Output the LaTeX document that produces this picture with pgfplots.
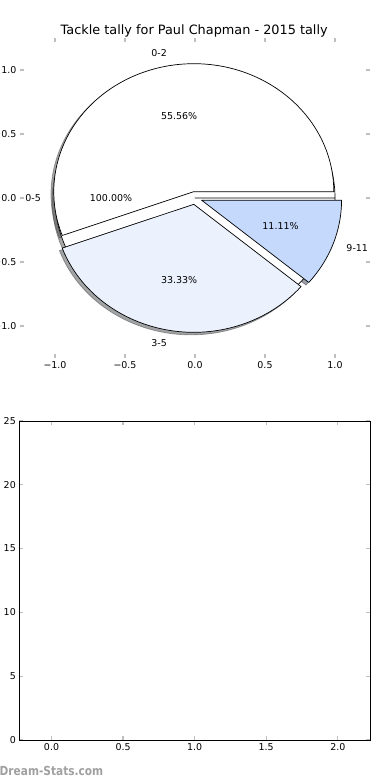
\documentclass[border=0pt]{standalone}
\usepackage{pgfplots}
\pgfplotsset{compat=1.18}
\usepackage{pgfplotstable}
\usepackage{fontspec}
\setmainfont{DejaVu Sans}
\definecolor{tickgray}{RGB}{191,191,191}
\definecolor{sliceA}{RGB}{255,255,255}
\definecolor{sliceB}{RGB}{235,241,253}
\definecolor{sliceC}{RGB}{197,217,253}
\definecolor{shadA}{RGB}{77,77,77}
\definecolor{shadB}{RGB}{70,72,76}
\definecolor{shadC}{RGB}{59,65,76}
\definecolor{wmgray}{RGB}{160,160,160}
\pgfkeys{/pgf/number format/assume math mode=true}
\newcommand{\lblfont}{\fontsize{9.5}{11.4}\selectfont}

% tallies of the inner pie and of the single outer category
\pgfplotstableread{
label value
0-2 5
3-5 3
9-11 1
}\tallies
\pgfplotstableread{
label value
0-5 1
}\alltally

\newcommand{\savew}[3]{\expandafter\xdef\csname w#1#2\endcsname{#3}}
\newcommand{\getw}[2]{\csname w#1#2\endcsname}
% name, start angle, end angle, explode
\newcommand{\prepwedge}[4]{%
  \pgfmathsetmacro{\tmid}{(#2+#3)/2}%
  \pgfmathsetmacro{\tcx}{#4*cos(\tmid)}%
  \pgfmathsetmacro{\tcy}{#4*sin(\tmid)}%
  \pgfmathsetmacro{\tsx}{\tcx+cos(#2)}%
  \pgfmathsetmacro{\tsy}{\tcy+sin(#2)}%
  \pgfmathsetmacro{\tscx}{\tcx-0.02}%
  \pgfmathsetmacro{\tscy}{\tcy-0.02}%
  \pgfmathsetmacro{\tssx}{\tsx-0.02}%
  \pgfmathsetmacro{\tssy}{\tsy-0.02}%
  \pgfmathsetmacro{\tlx}{\tcx+1.1*cos(\tmid)}%
  \pgfmathsetmacro{\tly}{\tcy+1.1*sin(\tmid)}%
  \pgfmathsetmacro{\tpx}{\tcx+0.6*cos(\tmid)}%
  \pgfmathsetmacro{\tpy}{\tcy+0.6*sin(\tmid)}%
  \pgfmathsetmacro{\tpct}{(#3-#2)/3.6}%
  \savew{#1}{start}{#2}\savew{#1}{end}{#3}%
  \savew{#1}{cx}{\tcx}\savew{#1}{cy}{\tcy}%
  \savew{#1}{sx}{\tsx}\savew{#1}{sy}{\tsy}%
  \savew{#1}{scx}{\tscx}\savew{#1}{scy}{\tscy}%
  \savew{#1}{ssx}{\tssx}\savew{#1}{ssy}{\tssy}%
  \savew{#1}{lx}{\tlx}\savew{#1}{ly}{\tly}%
  \savew{#1}{px}{\tpx}\savew{#1}{py}{\tpy}%
  \savew{#1}{pct}{\tpct}%
}
% name, prefix (s = shadow)
\newcommand{\wedgeshape}[2]{%
  \pgfpathmoveto{\pgfplotspointaxisxy{\getw{#1}{#2cx}}{\getw{#1}{#2cy}}}%
  \pgfpathlineto{\pgfplotspointaxisxy{\getw{#1}{#2sx}}{\getw{#1}{#2sy}}}%
  \pgfpatharc{\getw{#1}{start}}{\getw{#1}{end}}{140bp and 128bp}%
  \pgfpathclose
}
\newcommand{\wedgeshadow}[2]{%
  \begin{pgfscope}
  \pgfsetfillcolor{#2}\pgfsetstrokecolor{#2}%
  \pgfsetfillopacity{0.5}\pgfsetstrokeopacity{0.5}%
  \pgfsetlinewidth{0.7bp}%
  \wedgeshape{#1}{s}%
  \pgfusepath{fill,stroke}%
  \end{pgfscope}
}
\newcommand{\wedgefill}[2]{%
  \begin{pgfscope}
  \pgfsetfillcolor{#2}\pgfsetstrokecolor{black}%
  \pgfsetlinewidth{0.7bp}\pgfsetroundjoin
  \wedgeshape{#1}{}%
  \pgfusepath{fill,stroke}%
  \end{pgfscope}
}

\pgfplotstablegetelem{0}{value}\of\tallies \edef\vA{\pgfplotsretval}
\pgfplotstablegetelem{1}{value}\of\tallies \edef\vB{\pgfplotsretval}
\pgfplotstablegetelem{2}{value}\of\tallies \edef\vC{\pgfplotsretval}
\pgfplotstablegetelem{0}{value}\of\alltally \edef\vAll{\pgfplotsretval}
\pgfmathsetmacro{\tot}{\vA+\vB+\vC}
\pgfmathsetmacro{\eA}{360*\vA/\tot}
\pgfmathsetmacro{\eB}{\eA+360*\vB/\tot}
\pgfmathsetmacro{\eC}{\eB+360*\vC/\tot}
\pgfmathsetmacro{\eAll}{360*\vAll/\vAll}
\prepwedge{O}{0}{\eAll}{0}
\prepwedge{A}{0}{\eA}{0.05}
\prepwedge{B}{\eA}{\eB}{0.05}
\prepwedge{C}{\eB}{\eC}{0.05}

\begin{document}%
\begin{tikzpicture}
\pgfplotsset{
  every axis/.append style={
    scale only axis, anchor=south west,
    tick style={tickgray, line width=1.2bp},
    major tick length=4bp, tick align=inside,
    ticklabel style={font=\lblfont},
  }
}
\begin{axis}[
  at={(20bp,422bp)}, width=350bp, height=320bp,
  xmin=-1.25, xmax=1.25, ymin=-1.25, ymax=1.25,
  axis line style={draw=none},
  xtick={-1,-0.5,0,0.5,1}, xticklabels={−1.0,−0.5,0.0,0.5,1.0},
  ytick={-1,-0.5,0,0.5,1}, yticklabels={−1.0,−0.5,0.0,0.5,1.0},
  clip=false,
]
\pgfplotsextra{%
  \wedgeshadow{O}{shadA}%
  \wedgeshadow{A}{shadA}%
  \wedgeshadow{B}{shadB}%
  \wedgeshadow{C}{shadC}%
  \wedgefill{O}{sliceA}%
  \wedgefill{A}{sliceA}%
  \wedgefill{B}{sliceB}%
  \wedgefill{C}{sliceC}%
}
\node[anchor=east, inner sep=0pt, font=\lblfont] at (axis cs:\wOlx,\wOly) {0-5};
\node[anchor=east, inner sep=0pt, font=\lblfont] at (axis cs:\wAlx,\wAly) {0-2};
\node[anchor=east, inner sep=0pt, font=\lblfont] at (axis cs:\wBlx,\wBly) {3-5};
\node[anchor=west, inner sep=0pt, font=\lblfont] at (axis cs:\wClx,\wCly) {9-11};
\node[inner sep=0pt, font=\lblfont] at (axis cs:\wOpx,\wOpy) {\pgfmathprintnumber[fixed,fixed zerofill,precision=2]{\wOpct}\%};
\node[inner sep=0pt, font=\lblfont] at (axis cs:\wApx,\wApy) {\pgfmathprintnumber[fixed,fixed zerofill,precision=2]{\wApct}\%};
\node[inner sep=0pt, font=\lblfont] at (axis cs:\wBpx,\wBpy) {\pgfmathprintnumber[fixed,fixed zerofill,precision=2]{\wBpct}\%};
\node[inner sep=0pt, font=\lblfont] at (axis cs:\wCpx,\wCpy) {\pgfmathprintnumber[fixed,fixed zerofill,precision=2]{\wCpct}\%};
\end{axis}
\begin{axis}[
  at={(19.3bp,40bp)}, width=350.7bp, height=319bp,
  xmin=-0.225, xmax=2.225, ymin=0, ymax=25,
  axis line style={black, line width=0.8bp},
  xtick={0,0.5,1,1.5,2}, xticklabels={0.0,0.5,1.0,1.5,2.0},
  ytick={0,5,10,15,20,25}, yticklabels={0,5,10,15,20,25},
]
\addplot[draw=none, forget plot] coordinates {(0,0)};
\end{axis}
\node[anchor=base, inner sep=0pt, font=\fontsize{12.9}{15}\selectfont] at (194.2bp,745bp)
  {Tackle tally for Paul Chapman - 2015 tally};
\node[anchor=base west, inner sep=0pt, text=wmgray, font=\fontsize{12.5}{15}\selectfont\bfseries] at (-0.5bp,5bp)
  {\scalebox{0.85}[1]{Dream-Stats.com}};
\pgfresetboundingbox
\useasboundingbox (0,0) rectangle (390bp,780bp);
\end{tikzpicture}%
\end{document}
